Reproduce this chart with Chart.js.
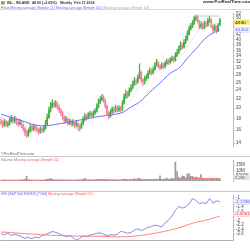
<!DOCTYPE html>
<html><head><meta charset="utf-8">
<script src="https://cdn.jsdelivr.net/npm/chart.js@4"></script>
<style>
html,body{margin:0;padding:0;background:#fff;width:250px;height:250px;overflow:hidden;font-family:"Liberation Sans",Arial,sans-serif}
.c{position:absolute;left:0;width:250px}
.t{position:absolute;white-space:nowrap;font-size:3.6px;line-height:4px}
.ln{position:absolute;background:#c8c8c8}
</style></head><body>
<div class="c" style="top:9px;height:147px"><canvas id="cp" width="250" height="147"></canvas></div>
<div class="c" style="top:156px;height:35px"><canvas id="cv" width="250" height="35"></canvas></div>
<div class="c" style="top:191px;height:59px"><canvas id="cr" width="250" height="59"></canvas></div>
<div class="ln" style="left:0;top:155.5px;width:250px;height:1px"></div>
<div class="ln" style="left:0;top:190.5px;width:250px;height:1px"></div>
<div class="ln" style="left:0;top:8.5px;width:250px;height:0.6px;background:#ddd"></div>

<div class="t" style="left:1px;top:0.5px;"><span style="color:#3a3;font-weight:bold">▮</span><span style="color:#e66;font-weight:bold">▮</span></div>
<div class="t" style="left:7px;top:0.5px;color:#333;font-weight:bold">INL - INLAND</div>
<div class="t" style="left:32px;top:0.5px;color:#333;font-weight:bold">48.90 (+2.65%)</div>
<div class="t" style="left:60px;top:0.5px;color:#333;font-weight:bold">Weekly &nbsp;Feb 11 2014</div>
<div class="t" style="left:203px;top:0px;color:#222;font-weight:bold;font-size:4.4px">www.ProRealTime.com</div>
<div class="t" style="left:1px;top:5.5px;color:#555">Price <span style="color:#6b6bff">Moving average (Simple 1)</span> | <span style="color:#6b6bff">Moving average (Simple 50)</span> | <span style="color:#aaa">Moving average (Simple 10)</span></div>
<div class="t" style="left:1px;top:152px;color:#666;font-size:3.8px">©ProRealTime.com</div>
<div class="t" style="left:1px;top:157.5px;color:#888">Volume <span style="color:#f05a5a">Moving average (Simple 52)</span></div>
<div class="t" style="left:1px;top:192px;color:#5a5ae0">RSI (S&amp;P 500 INDEX) [*100] <span style="color:#f05a5a">Moving average (Simple 52)</span></div>

<script>
// ---- data ----
const weekStart = '2011-08-29';
const firstOpen = 17.5;
const closes = [17.2,16.8,17.4,16.9,17.0,17.6,18.0,17.5,17.9,17.3,
17.0,17.4,16.8,16.2,15.6,15.2,15.8,16.4,16.1,16.6,
16.2,16.0,15.7,16.1,15.9,16.3,17.0,18.2,19.5,20.4,
21.0,20.6,20.9,20.2,19.6,19.0,18.2,17.6,17.9,17.2,
17.5,17.0,17.3,16.8,17.1,16.6,16.4,17.0,17.8,18.4,
18.1,18.6,18.9,18.5,19.0,19.4,20.3,21.2,21.8,22.3,
21.6,20.4,19.0,18.4,19.2,19.8,19.5,20.1,19.6,20.0,
19.7,21.0,22.4,23.2,22.8,23.9,24.6,25.5,26.4,26.0,
27.2,28.8,26.6,26.0,26.8,27.3,28.5,29.2,28.6,29.6,
31.0,31.8,30.6,30.2,31.0,30.4,31.5,32.2,31.8,32.6,
33.1,32.5,34.0,35.2,36.5,37.9,37.2,39.0,40.2,42.5,
44.8,45.9,47.2,49.8,50.6,48.4,45.6,46.8,45.2,47.5,
46.3,48.8,49.2,46.0,44.2,45.8,43.9,46.5,48.9];
const highs = [18.0,17.6,17.9,17.6,17.5,18.1,18.6,18.3,18.4,18.1,
17.7,17.9,17.6,17.0,16.5,15.9,16.2,16.9,16.8,17.0,
16.9,16.6,16.3,16.5,16.4,16.8,17.6,18.8,20.2,21.2,
21.8,21.5,21.6,21.3,20.6,19.9,19.3,18.5,18.4,18.1,
17.9,17.8,17.8,17.5,17.6,17.3,16.9,17.4,18.3,18.9,
18.8,19.1,19.4,19.2,19.5,19.9,20.9,21.9,22.5,23.0,
22.7,21.9,20.6,19.3,19.7,20.3,20.2,20.6,20.4,20.5,
20.3,21.6,23.1,24.0,23.7,24.6,25.4,26.3,27.3,27.0,
28.0,31.4,29.2,27.1,27.6,28.1,29.3,30.1,29.8,30.4,
31.8,32.8,32.2,31.2,31.8,31.5,32.3,33.0,32.9,33.4,
34.0,33.8,35.2,36.4,37.8,39.2,38.8,40.1,41.5,43.8,
46.2,47.3,48.6,50.9,51.5,51.2,49.0,48.2,47.5,48.6,
48.1,49.9,50.8,49.6,46.5,47.0,46.2,47.4,49.8];
const lows = [16.8,16.4,16.6,16.5,16.5,16.8,17.3,17.1,17.2,16.9,
16.6,16.8,16.4,15.8,15.1,14.8,15.0,15.6,15.8,15.9,
15.9,15.6,15.3,15.5,15.5,15.7,16.1,16.8,18.0,19.2,
20.1,20.0,20.2,19.8,19.1,18.5,17.8,17.1,17.3,16.8,
16.9,16.6,16.7,16.3,16.5,16.0,15.8,16.2,16.8,17.5,
17.7,17.9,18.3,18.1,18.2,18.7,19.2,20.0,20.9,21.5,
21.1,20.0,18.6,17.9,18.2,18.9,19.0,19.2,19.2,19.3,
19.2,19.5,20.8,22.0,22.2,22.5,23.6,24.3,25.2,25.3,
25.7,27.0,26.0,25.2,25.6,26.4,27.0,28.2,28.0,28.3,
29.3,30.6,30.0,29.4,29.8,29.9,30.1,31.1,31.2,31.5,
32.2,31.9,32.2,33.7,34.8,36.0,36.4,36.8,38.5,39.8,
42.0,44.2,45.3,46.8,48.6,47.6,44.8,45.0,44.4,44.9,
45.5,46.0,47.9,45.2,43.2,43.8,42.9,43.5,46.2];
const volumes = [0.6,0.5,0.8,0.5,0.4,0.7,0.9,0.5,0.6,0.5,
0.5,0.6,0.8,1.0,1.6,4.5,1.2,0.8,0.6,0.7,
0.5,0.5,0.6,0.5,0.6,0.7,1.2,1.5,1.8,2.5,
1.6,1.0,0.9,0.8,0.9,0.7,1.0,0.8,0.6,0.7,
0.6,0.6,0.5,0.7,0.6,0.8,0.9,1.0,1.4,2.5,
1.0,0.8,0.9,0.7,0.9,1.0,1.3,1.6,1.4,1.5,
1.2,1.5,1.4,1.0,0.9,1.0,0.8,0.9,0.7,0.8,
0.8,1.4,1.8,1.5,1.1,1.3,1.2,1.4,2.4,1.3,
2.6,2.2,1.8,1.2,1.0,1.3,1.6,1.2,1.0,1.4,
1.6,1.8,1.5,5.0,1.4,1.2,2.0,2.6,1.5,1.8,
2.5,2.0,18.0,9.0,3.5,2.8,5.0,4.5,3.0,6.5,
7.0,4.5,4.5,3.5,3.8,3.2,3.0,6.0,2.5,2.2,
2.0,2.4,2.1,2.6,2.2,1.9,2.3,2.0,2.2];
const priceMaWeeks  = [0,11,23,35,46,58,70,75,81,87,93,99,104,109,113,116,119,122,125,128];
const priceMaValues = [18.8,17.7,16.7,17.1,17.7,18.4,19.0,20.0,21.3,23.5,25.8,28.5,30.0,33.2,35.8,38.0,40.3,42.0,43.3,44.305];
const ma10Weeks  = [5,12,18,25,30,35,40,46,52,58,64,70,76,82,88,94,100,106,112,117,122,128];
const ma10Values = [17.2,17.4,16.0,16.0,17.5,19.5,18.8,17.2,17.5,19.5,20.0,19.6,21.8,25.5,27.5,30.0,31.5,34.5,40.5,45.5,47.0,46.6];
const highLineWeeks = [113,128];
const highLineValues = [51.0,51.0];
const volMaWeeks  = [0,29,58,73,87,102,116,128];
const volMaValues = [0.8,0.9,1.0,1.1,1.3,1.6,2.3,2.4];
const rsiValues = [-2.58,-2.62,-2.55,-2.66,-2.6,-2.64,-2.72,-2.78,-2.74,-2.8,
-2.72,-2.76,-2.66,-2.6,-2.55,-2.48,-2.52,-2.58,-2.64,-2.7,
-2.66,-2.74,-2.86,-2.78,-2.68,-2.7,-2.64,-2.6,-2.56,-2.54,
-2.6,-2.66,-2.62,-2.64,-2.6,-2.48,-2.5,-2.56,-2.52,-2.42,
-2.36,-2.44,-2.38,-2.3,-2.26,-2.2,-2.24,-2.28,-2.1,-1.98,
-1.8,-1.56,-1.38,-1.46,-1.4,-1.28,-1.04,-1.12,-1.26,-1.22,
-1.26,-1.04,-1.24,-1.14,-1.1798];
const rsiStepWeeks = 2;
const rsiMaWeeks  = [0,12,23,35,46,58,73,88,102,112,122,128];
const rsiMaValues = [-2.5,-2.56,-2.62,-2.66,-2.68,-2.69,-2.71,-2.58,-2.36,-2.12,-1.94,-1.8061];
const priceTicks = [14,16,18,20,22,24,26,28,30,32,34,36,38,40,42,50,52];
const volTicks = [5,10,15];
const volTickLabels = ['5000K','10M','15M'];
const rsiTicks = [-1,-1.4,-1.6,-2,-2.2,-2.4,-2.6];
const monthTickDates = ['2011-11-01','2012-01-01','2012-03-01','2012-05-01','2012-07-01','2012-09-01','2012-11-01','2013-01-01','2013-03-01','2013-05-01','2013-07-01','2013-09-01','2013-11-01','2014-01-01','2014-03-01'];
const monthTickLabels = ['Nov','2012','Mar','May','Jul','Sep','Nov','2013','Mar','May','Jul','Sep','Nov','2014','Mar'];

// ---- build ----
Chart.defaults.font.family = "'Liberation Sans', Arial, sans-serif";
Chart.defaults.animation = false;
Chart.defaults.plugins.legend.display = false;
Chart.defaults.plugins.tooltip.enabled = false;
const UP = '#45ad45', DN = '#f4819b';
const t0 = Date.parse(weekStart);
const monthWeeks = monthTickDates.map(d => (Date.parse(d) - t0) / (7 * 864e5));
const opens = closes.map((c, i) => i === 0 ? firstOpen : closes[i - 1]);
const candleColor = ctx => closes[ctx.dataIndex] >= opens[ctx.dataIndex] ? UP : DN;
const pts = (ws, vs) => ws.map((w, k) => ({x: w, y: vs[k]}));

const hl = {id: 'hl', afterDraw(chart, args, opts) {
  const ctx = chart.ctx, ys = chart.scales.y;
  (opts.items || []).forEach(it => {
    const y = ys.getPixelForValue(it.value) + (it.dy || 0);
    ctx.save();
    ctx.fillStyle = it.bg; ctx.fillRect(233.5, y - 2.6, 16, 5.2);
    if (it.border) { ctx.strokeStyle = it.border; ctx.lineWidth = 0.5; ctx.strokeRect(233.75, y - 2.35, 15.5, 4.7); }
    ctx.fillStyle = it.fg; ctx.font = '4.3px "Liberation Sans"'; ctx.textBaseline = 'middle';
    ctx.fillText(it.text, 235, y + 0.2);
    ctx.restore();
  });
}};

function xAxis(show) {
  return {type: 'linear', min: -0.6, max: 135.7, offset: false, display: show,
    grid: {display: false}, border: {display: true, color: '#999', width: 0.8},
    afterFit: s => { s.height = 10; },
    afterBuildTicks: ax => { ax.ticks = monthWeeks.map(v => ({value: v})); },
    ticks: {autoSkip: false, maxRotation: 0, color: '#333', padding: 2,
      font: c => ({size: 4, weight: /^\d/.test(monthTickLabels[c.index] || '') ? 'bold' : 'normal'}),
      callback: (v, i) => monthTickLabels[i]}};
}
function yAxis(extra) {
  return Object.assign({position: 'right', afterFit: s => { s.width = 17; },
    grid: {drawOnChartArea: false, drawTicks: true, tickLength: 1.5, color: '#aaa'},
    border: {display: true, color: '#bbb', width: 1}}, extra);
}
const tickFont = {size: 4.5};

new Chart(document.getElementById('cp'), {
  type: 'bar',
  data: {datasets: [
    {type: 'line', data: pts(priceMaWeeks, priceMaValues), borderColor: '#6d6dff', borderWidth: 1, pointRadius: 0, tension: 0.4, order: 0},
    {type: 'line', data: pts(ma10Weeks, ma10Values), borderColor: '#c4c4c4', borderWidth: 0.7, borderDash: [1, 1], pointRadius: 0, tension: 0.4, order: 1},
    {type: 'line', data: pts(highLineWeeks, highLineValues), borderColor: '#bbbbbb', borderWidth: 0.8, pointRadius: 0, order: 1},
    {data: closes.map((c, i) => ({x: i, y: [lows[i], highs[i]]})), backgroundColor: candleColor, barThickness: 0.6, grouped: false, order: 3},
    {data: closes.map((c, i) => ({x: i, y: [opens[i], c]})), backgroundColor: candleColor, barThickness: 1.1, grouped: false, order: 2}
  ]},
  options: {responsive: false, layout: {padding: 0},
    scales: {
      x: xAxis(false),
      y: yAxis({type: 'logarithmic', min: 13.6, max: 52.5,
        afterBuildTicks: ax => { ax.ticks = priceTicks.map(v => ({value: v})); },
        ticks: {autoSkip: false, font: tickFont, color: '#444', padding: 1.5, callback: v => String(v)}})
    },
    plugins: {hl: {items: [
      {value: 48.90, dy: 2, text: '48.90', bg: '#f6e96a', fg: '#000'},
      {value: 44.305, text: '44.305', bg: '#eef0ff', fg: '#5b5bf0', border: '#c8ccff'}
    ]}}},
  plugins: [hl]
});

new Chart(document.getElementById('cv'), {
  type: 'bar',
  data: {datasets: [
    {type: 'line', data: pts(volMaWeeks, volMaValues), borderColor: '#ff6f6f', borderWidth: 0.8, pointRadius: 0, tension: 0.3, order: 0},
    {data: volumes.map((v, i) => ({x: i, y: v})), backgroundColor: '#9a9a9a', barThickness: 1, order: 1}
  ]},
  options: {responsive: false, layout: {padding: 0},
    scales: {
      x: xAxis(false),
      y: yAxis({type: 'linear', min: 0, max: 19.8,
        afterBuildTicks: ax => { ax.ticks = volTicks.map(v => ({value: v})); },
        ticks: {autoSkip: false, font: tickFont, color: '#444', padding: 1.5, callback: (v, i) => volTickLabels[i]}})
    },
    plugins: {hl: {items: [
      {value: volumes[volumes.length - 1], dy: -1.2, text: '2.2M', bg: '#e2e2e2', fg: '#666'}
    ]}}},
  plugins: [hl]
});

new Chart(document.getElementById('cr'), {
  type: 'line',
  data: {datasets: [
    {data: pts(rsiMaWeeks, rsiMaValues), borderColor: '#ff7676', borderWidth: 0.9, pointRadius: 0, tension: 0.4},
    {data: rsiValues.map((v, k) => ({x: k * rsiStepWeeks, y: v})), borderColor: '#6a6ae6', borderWidth: 0.8, pointRadius: 0, tension: 0}
  ]},
  options: {responsive: false, layout: {padding: 0},
    scales: {
      x: xAxis(true),
      y: yAxis({type: 'linear', min: -2.852, max: -0.892,
        afterBuildTicks: ax => { ax.ticks = rsiTicks.map(v => ({value: v})); },
        ticks: {autoSkip: false, font: tickFont, color: '#444', padding: 1.5, callback: v => String(v)}})
    },
    plugins: {hl: {items: [
      {value: -1.1798, text: '-1.1798', bg: '#eef0ff', fg: '#5b5bf0', border: '#c8ccff'},
      {value: -1.8061, dy: -2, text: '-1.8061', bg: '#ffe6e6', fg: '#f04a4a', border: '#ffc0c0'}
    ]}}},
  plugins: [hl]
});
</script>
</body></html>
